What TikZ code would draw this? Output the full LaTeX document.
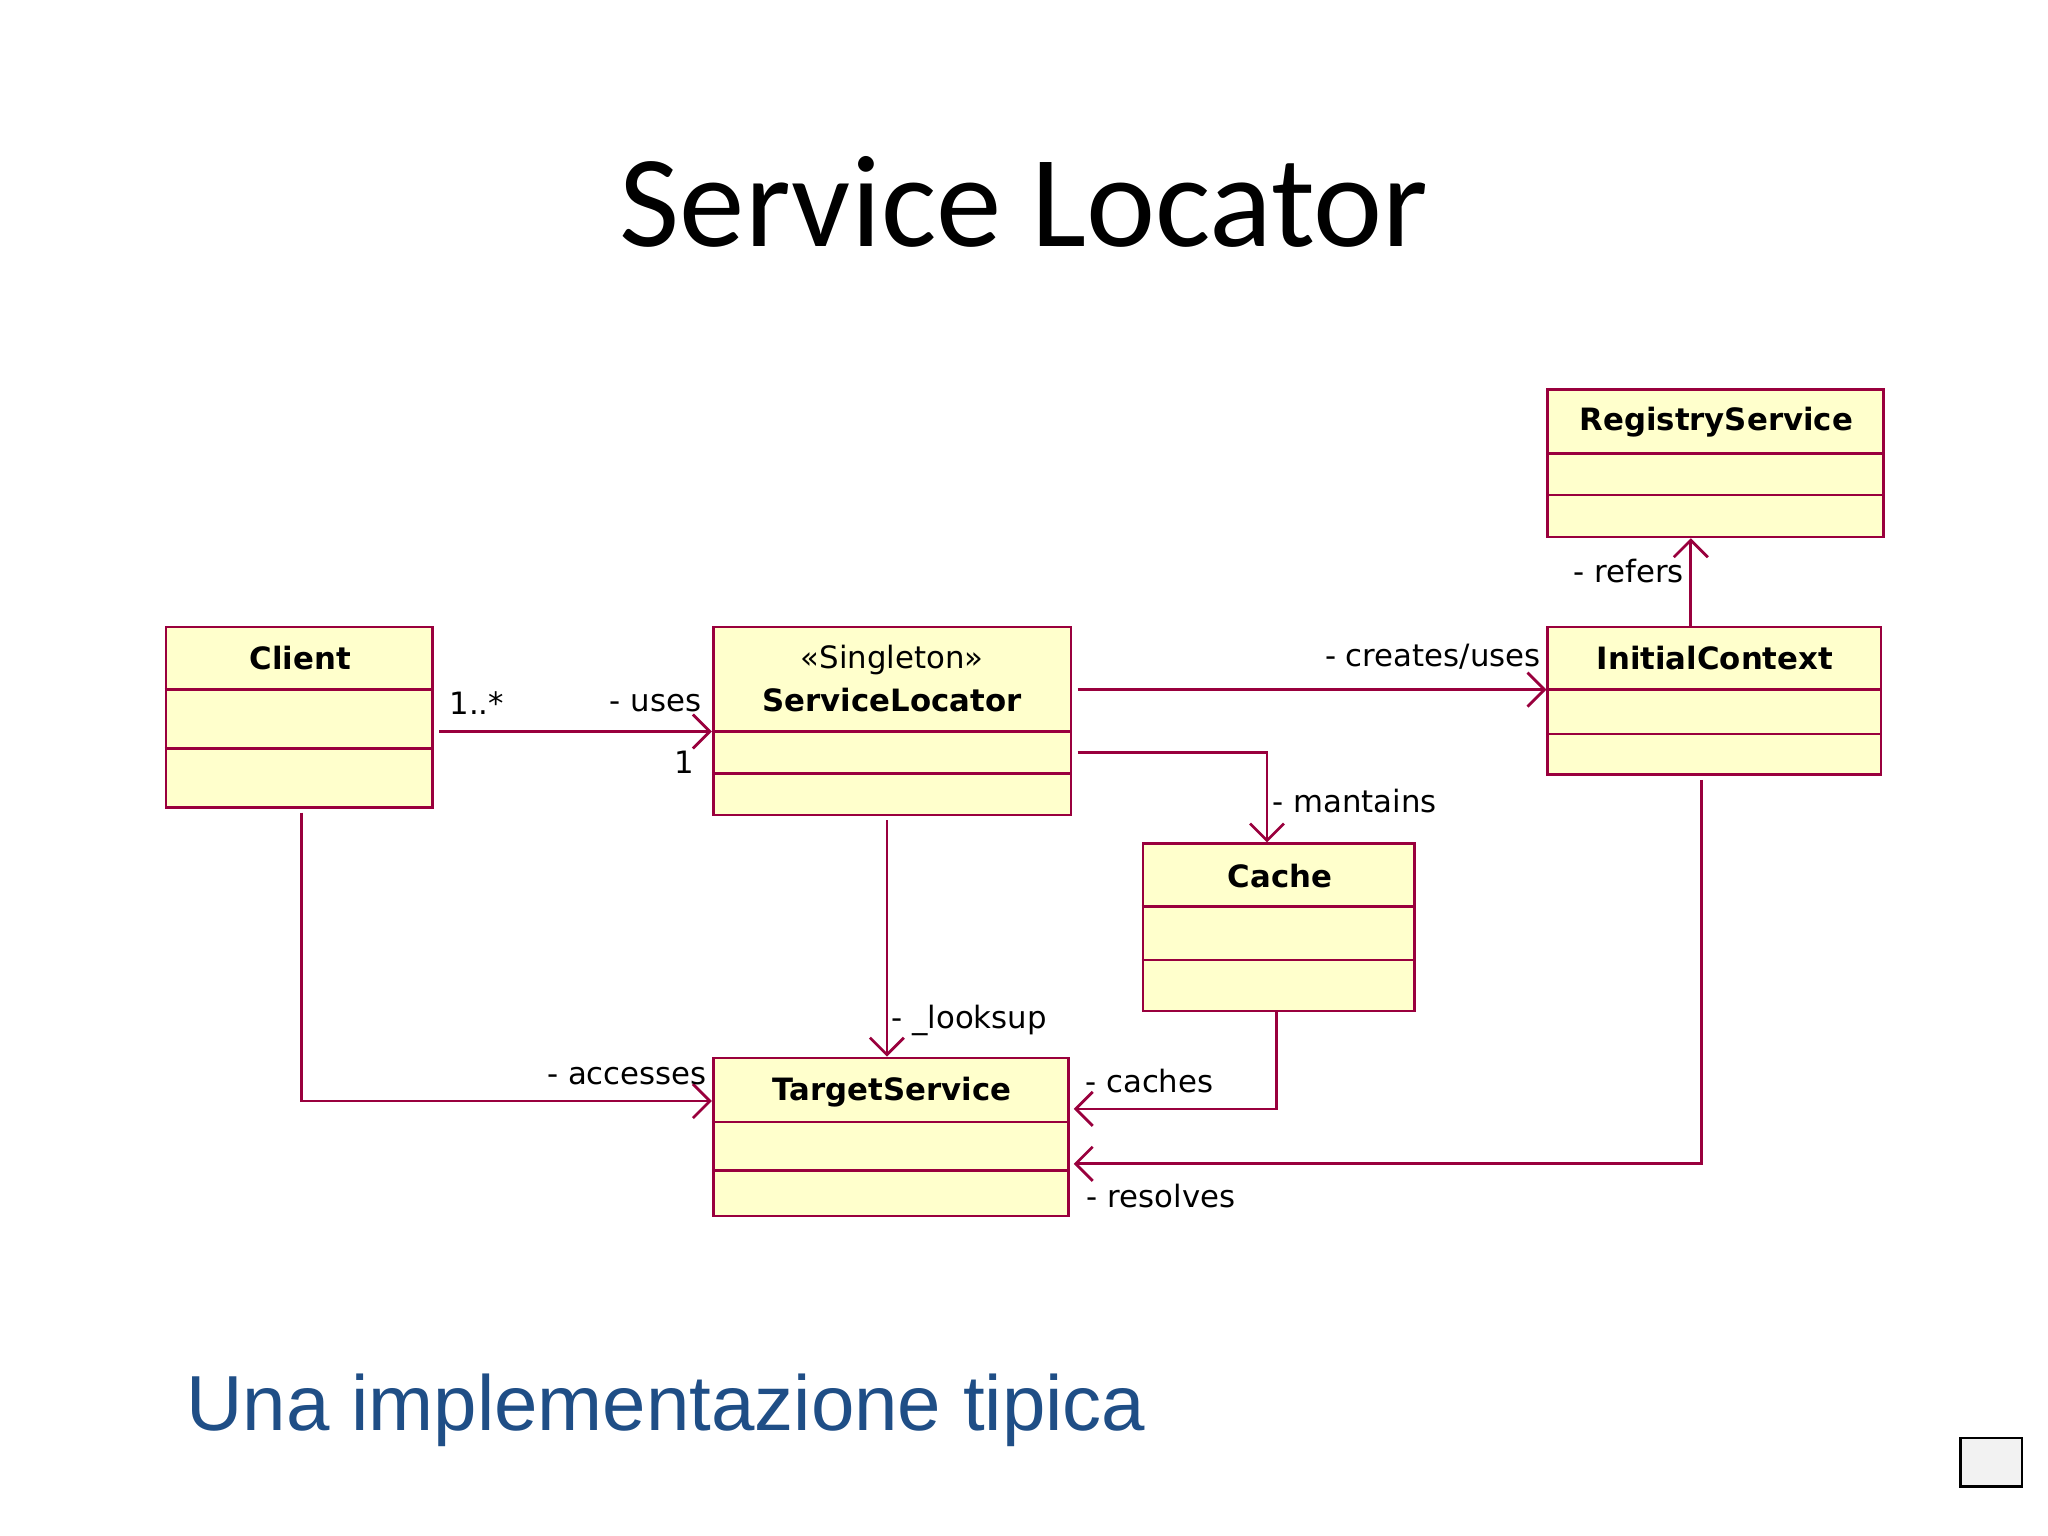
\documentclass[tikz,border=0pt]{standalone}
\usepackage{fontspec}
\setmainfont{DejaVu Sans}
\newfontfamily\titlefont{Carlito}
\newfontfamily\subfont{Liberation Sans}
\usetikzlibrary{arrows.meta,calc}
\definecolor{umlfill}{HTML}{FFFFCC}
\definecolor{umlline}{HTML}{99003D}
\definecolor{subblue}{HTML}{1F4E86}
\tikzset{
  box/.style={draw=umlline, fill=umlfill, line width=0.6pt, anchor=north west, inner sep=0pt},
  conn/.style={draw=umlline, line width=0.6pt, -{Straight Barb[length=1.3mm,width=2.6mm]}},
  lbl/.style={font=\fontsize{6.7}{8}\selectfont, inner sep=0pt},
  cname/.style={font=\bfseries\fontsize{6.7}{8}\selectfont, inner sep=0pt}
}
% class box: name, x, y, width, height, first line, second line
\newcommand{\umlbox}[7]{%
  \node[box, minimum width=#4*0.01cm, minimum height=#5*0.01cm] (#1) at (#2,#3) {};
  \draw[umlline, line width=0.6pt] (#2,#6) -- (#2+#4,#6);
  \draw[umlline, line width=0.6pt] (#2,#7) -- (#2+#4,#7);
}
\begin{document}
\begin{tikzpicture}[x=0.01cm,y=-0.01cm]
  \useasboundingbox (0,0) rectangle (1568,1176);

  \node[font=\titlefont\fontsize{28.5}{32}\selectfont] (title) at (784,155) {Service Locator};

  % classes
  \umlbox{client}{126}{479}{204}{138}{528}{573}
  \umlbox{sl}{545}{479}{274}{144}{560}{592}
  \umlbox{ic}{1184}{479}{255}{113}{528}{562}
  \umlbox{rs}{1184}{297}{257}{113}{347}{379}
  \umlbox{cache}{874}{645}{208}{128}{694}{735}
  \umlbox{ts}{545}{809}{272}{121}{859}{896}

  \node[cname] (clientname) at (230,504) {Client};
  \node[lbl] (slstereo) at (683,505) {«Singleton»};
  \node[cname] (slname) at (683,536) {ServiceLocator};
  \node[cname] (icname) at (1313,504) {InitialContext};
  \node[cname] (rsname) at (1314,323) {RegistryService};
  \node[cname] (cachename) at (980,671) {Cache};
  \node[cname] (tsname) at (683,836) {TargetService};

  % connectors
  \draw[conn] ([shift={(0.04cm,-0.11cm)}]client.east) -- ([yshift=-0.11cm]sl.west |- client.east);
  \draw[conn] ([shift={(0.04cm,0.24cm)}]sl.east) -- ([yshift=0.24cm]ic.west |- sl.east);
  \draw[conn] ([shift={(0.04cm,-0.24cm)}]sl.east) -| ([xshift=-0.09cm]cache.north);
  \draw[conn] ([xshift=-0.18cm]ic.north) -- ([xshift=-0.18cm]ic.north |- rs.south);
  \draw[conn] ([shift={(-0.04cm,-0.03cm)}]sl.south) -- ([xshift=-0.04cm]sl.south |- ts.north);
  \draw[conn] ([shift={(0.02cm,-0.03cm)}]client.south) |- ([yshift=-0.34cm]ts.north west);
  \draw[conn] ([xshift=-0.02cm]cache.south) |- ([xshift=0.03cm,yshift=-0.40cm]ts.north east);
  \draw[conn] ([shift={(-0.10cm,-0.03cm)}]ic.south) |- ([xshift=0.03cm,yshift=-0.82cm]ts.north east);

  % connector labels
  \node[lbl] (mult1) at (365,538) {1..*};
  \node[lbl] (uses) at (502,538) {- uses};
  \node[lbl] (mult2) at (524,584) {1};
  \node[lbl] (creates) at (1097,503) {- creates/uses};
  \node[lbl] (mantains) at (1037,613) {- mantains};
  \node[lbl] (refers) at (1247,437) {- refers};
  \node[lbl] (looksup) at (742,781) {- \_looksup};
  \node[lbl] (accesses) at (480,824) {- accesses};
  \node[lbl] (caches) at (880,828) {- caches};
  \node[lbl] (resolves) at (889,916) {- resolves};

  \node[font=\subfont\fontsize{17}{20}\selectfont, text=subblue, anchor=west, inner sep=0pt] (sub) at (142,1080) {Una implementazione tipica};
  \draw[black, fill=gray!10, line width=0.6pt] (1501,1101) rectangle (1548,1138);
\end{tikzpicture}
\end{document}
